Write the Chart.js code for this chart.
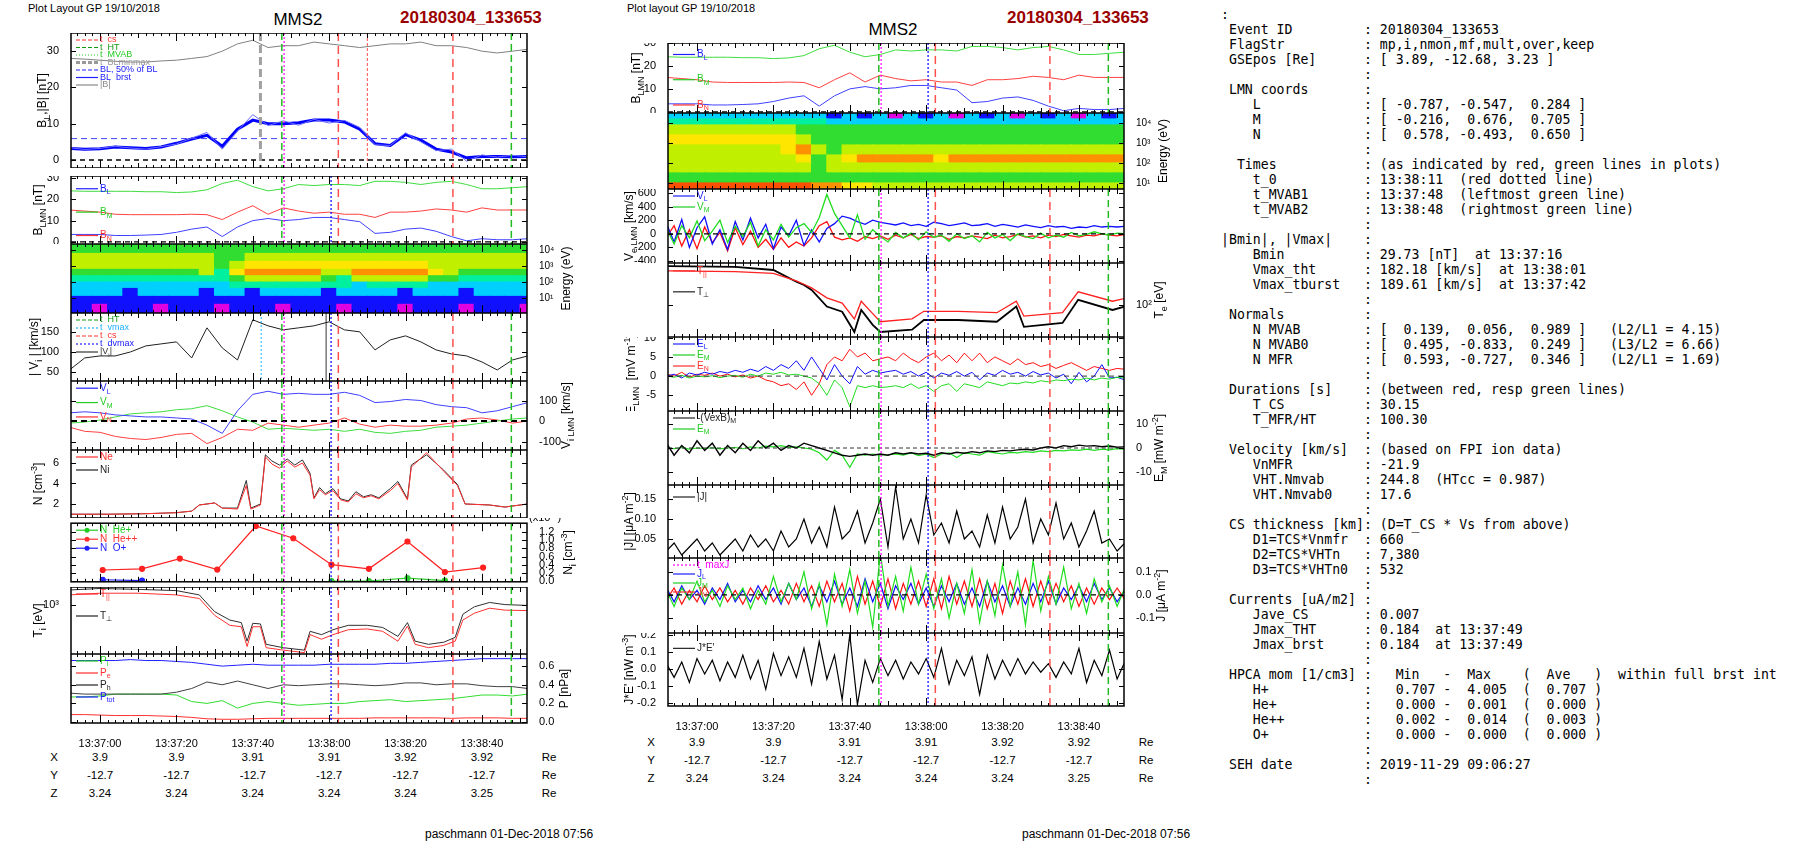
<!DOCTYPE html>
<html>
<head>
<meta charset="utf-8">
<script src="https://cdn.jsdelivr.net/npm/chart.js@4.4.1/dist/chart.umd.min.js"></script>
<style>
  body { margin: 0; width: 1804px; height: 841px; background: #fff; position: relative; overflow: hidden; font-family: "Liberation Sans", Arial, sans-serif; }
  canvas { position: absolute; }
  .t { position: absolute; white-space: nowrap; color: #000; }
  .c { transform: translate(-50%, -50%); }
  .m { transform: translateY(-50%); }
  pre { position: absolute; left: 1221px; top: 7px; margin: 0; font-family: "DejaVu Sans Mono", monospace; font-size: 13.2px; line-height: 15px; color: #000; }
</style>
</head>
<body>
<div class="t" style="left:28px;top:2px;font-size:11px">Plot Layout GP 19/10/2018</div>
<div class="t c" style="left:298px;top:20px;font-size:17px">MMS2</div>
<div class="t m" style="left:400px;top:18px;font-size:17px;font-weight:bold;color:#9b0000">20180304_133653</div>
<div class="t" style="left:627px;top:2px;font-size:11px">Plot layout GP 19/10/2018</div>
<div class="t c" style="left:893px;top:30px;font-size:17px">MMS2</div>
<div class="t m" style="left:1007px;top:18px;font-size:17px;font-weight:bold;color:#9b0000">20180304_133653</div>
<div class="t m" style="left:425px;top:834px;font-size:12px">paschmann 01-Dec-2018 07:56</div>
<div class="t m" style="left:1022px;top:834px;font-size:12px">paschmann 01-Dec-2018 07:56</div>
<pre id="info"></pre>
<script>
const F = "'Liberation Sans', Arial, sans-serif";

// ---- time grids (seconds after 13:36:00) ----
const T4 = Array.from({length: 31}, (_, i) => 52 + 4 * i);
const T2 = Array.from({length: 61}, (_, i) => 52 + 2 * i);
const XMIN = 52.4, XMAX = 171.8;

// event times
const tCs = [122.4, 152.4];
const tMvab = [107.6, 167.7];
const tMaxJ = 108.2;
const tDvmax = 120.5;
const tVmax = 102.2;
const tBminmax = 102;
const t0 = 130;
const tThin = 119.2;

// ---- left column data ----
const Bmag = [28,27.8,27.5,27.2,27,27,27.3,27.5,28,28.5,30,32,33,31,31.5,31.5,32.5,32,31.5,31,31.5,32,32,32.5,31.5,31.5,31,30,29.5,30,30.5];
const BLsm = [3.2,3.0,3.1,3.6,3.4,3.2,3.6,4.6,5.8,6.8,3.8,8.5,11,10,10,10.3,11,11,10.5,8.5,4.5,4.0,7.0,5.5,3.0,2.2,0.6,1.0,1.0,0.9,1.0];
const BLbrst = [3.4,2.9,3.2,3.8,3.3,3.0,3.7,4.4,6.0,7.6,3.0,8.0,12.5,9.5,10.8,9.6,11.2,10.2,10.9,9.0,4.2,4.0,7.5,5.0,2.6,3.0,-0.3,1.4,0.8,1.3,0.9];
const BLmn_g = [24,23.8,23.8,23.8,23.8,23.6,23.6,23.2,23.5,24.5,27.5,29,26,24,25,27,26.5,27,27,26.5,28.5,28.5,28,27,28,28.5,27,25,25,25.5,26];
const BLmn_r = [15,14.5,14,13,12.8,12.8,12.8,12.8,13,12.8,10.5,14,17,13,16,14.5,13.5,14,13,13,11.5,14,14,14.5,15.5,15,14,16,15,15,15];
const BLmn_b = [3.5,3.5,3.5,3,3,3.2,3.5,4.5,6,7,2.5,7,10,11,10,10.5,11.5,11.5,10.5,9.5,4,4.5,6,6.5,5,2.5,0.5,1.5,1,1,1.5];

const ionBands = [0.06,0.6,1.1,1.6,2.0,2.4,2.8,3.3,3.8,4.4];
const ionLevels = [
  "1101110111"+"0111011101"+"11011101110",
  "1111111111"+"1111111111"+"11111111111",
  "2222122221"+"2212222122"+"22122212222",
  "2222222222"+"2333333332"+"33332222222",
  "3333333333"+"3455555435"+"55554433333",
  "4444444445"+"3677777557"+"77776544444",
  "5555555555"+"4566666666"+"66665555555",
  "5555555555"+"4455555555"+"55555555555",
  "4444444444"+"4444444444"+"44444444444"
];

const Vimag = [55,85,90,90,100,115,120,125,85,160,110,80,180,165,155,160,165,175,155,150,105,130,140,125,105,95,90,75,55,80,90];
const ViL = [40,45,40,30,25,20,20,15,10,-20,-60,50,130,145,130,135,130,130,140,125,90,95,105,100,80,70,65,40,50,70,90];
const ViM = [-10,-5,5,20,35,40,45,55,60,75,50,20,-5,-40,-35,-40,-45,-40,-50,-40,-55,-60,-50,-45,-30,-25,-20,-10,0,10,15];
const ViN = [-30,-50,-55,-75,-85,-90,-80,-65,-60,-110,-80,-40,-45,-10,-20,-30,-20,-10,15,-15,-30,-20,-25,-25,-20,-10,10,15,5,-10,0];

const tN = [52,62,72,80,84,86,90,92,96,98.3,99.5,102,103.3,105,107,109,111,113,115,116,117.5,119,121,123,125,127,129,131,133,136,138,140.5,141.5,145.5,150,153.6,155.6,162,166,172];
const Ni = [1.0,1.0,1.05,1.15,1.3,1.9,2.1,1.6,1.6,4.3,1.6,2.0,6.8,6.2,5.8,6.4,5.8,6.3,5.0,2.6,3.6,3.0,3.5,2.5,2.3,3.2,2.7,2.9,2.6,3.5,4.2,2.5,5.8,6.8,5.3,3.9,2.0,1.9,1.7,2.0];
const Ne = [1.0,1.0,1.05,1.15,1.3,1.9,2.1,1.6,1.5,3.8,1.5,1.9,6.6,5.9,5.5,6.2,5.6,6.0,4.8,2.5,3.4,2.9,3.3,2.4,2.2,3.0,2.6,2.8,2.5,3.3,4.0,2.4,5.6,7.0,5.2,3.8,2.0,1.9,1.7,2.0];

const tHe = [60.7,71,80.9,90.7,100.8,110.6,120.6,130.4,140.5,150.3,160.3];
const HePP = [0.27,0.3,0.55,0.28,1.35,1.05,0.4,0.3,0.97,0.22,0.33];
const tHeP = [120.6,130.4,140.5,150.3];
const HeP = [0,0.0,0.07,0.01];
const tOp = [60.7,71];
const Op = [0.03,0.01];

const tTi = [52,60,70,80,86,90,94,97,98.5,100,102,103.5,108,113.5,115,118,121,125,130,134,138,140.5,142.5,146,150,153,155,158,162,166,172];
const Tperp = [1400,1450,1420,1380,1250,850,700,660,430,650,640,400,370,350,540,500,560,620,620,590,480,660,430,400,420,470,800,950,1050,1000,980];
const Tpar = [1250,1300,1300,1250,1150,780,620,600,380,600,600,370,350,330,500,450,500,560,570,540,430,610,400,370,390,430,700,820,920,880,870];

const Ptot = [0.66,0.66,0.66,0.66,0.67,0.66,0.66,0.65,0.64,0.62,0.6,0.61,0.62,0.61,0.61,0.61,0.61,0.62,0.62,0.62,0.62,0.63,0.63,0.64,0.65,0.66,0.67,0.68,0.68,0.68,0.68];
const Ph = [0.31,0.3,0.3,0.3,0.3,0.3,0.3,0.32,0.36,0.43,0.4,0.44,0.4,0.36,0.4,0.39,0.4,0.41,0.41,0.4,0.39,0.4,0.42,0.42,0.4,0.41,0.41,0.39,0.38,0.38,0.36];
const Pi = [0.27,0.27,0.28,0.3,0.3,0.3,0.3,0.29,0.22,0.2,0.23,0.15,0.2,0.22,0.2,0.18,0.19,0.2,0.2,0.22,0.23,0.24,0.22,0.23,0.24,0.25,0.27,0.29,0.29,0.28,0.3];
const Pe = [0.08,0.08,0.075,0.07,0.07,0.07,0.065,0.06,0.05,0.035,0.03,0.03,0.035,0.04,0.04,0.04,0.04,0.04,0.04,0.04,0.045,0.045,0.045,0.045,0.045,0.04,0.045,0.045,0.045,0.04,0.04];

// ---- right column data ----
const eBands = [0.7,1.0,1.5,2.0,2.4,2.9,3.4,3.9,4.2,4.5];
const eLevels = [
  "8888888888"+"7766555555"+"55555555555",
  "4444444444"+"4444444444"+"44444444444",
  "5555555555"+"4555555555"+"55555555555",
  "5555555556"+"4567777767"+"77777777777",
  "5555555567"+"5455555555"+"55555555555",
  "6666666665"+"4444444444"+"44444444444",
  "5555555554"+"4444444444"+"44444444444",
  "3333333333"+"3222222222"+"22222222222",
  "2222222222"+"2121202120"+"21202120212"
];

const VeL = [150,-120,210,-200,90,250,-150,60,-230,180,-90,230,-60,140,-220,100,-30,200,-170,60,
  -120,80,150,260,230,180,140,200,170,150,130,160,120,140,110,170,150,120,140,160,
  120,130,150,110,140,120,100,130,110,90,120,100,110,80,100,90,120,100,110,100,110];
const VeM = [80,-150,120,-60,190,-100,40,200,-130,110,-40,170,-180,60,-90,140,-50,90,150,20,
  240,580,300,120,-60,280,-80,60,-40,-120,20,-60,10,-90,30,-50,-20,-110,0,-70,
  -30,-120,20,-60,-10,-100,0,-40,-70,10,-60,-20,-50,20,-30,-10,30,0,-20,10,0];
const VeN = [-50,120,-180,60,-220,100,-130,20,-250,90,-160,40,-200,-80,-230,-60,-200,-120,-180,-60,
  120,180,-50,-90,-60,-110,-40,-70,-30,-80,-20,-60,-10,-70,-40,-50,-30,-80,-40,-60,
  -30,-50,-70,-20,-60,-40,-10,-50,-30,-60,-20,-40,-10,-30,-50,-20,-30,0,-20,-30,-10];

const tTe = [52,70,80,86,88,90,94,98,101.2,103,106,108,116.3,119.4,128.4,138.5,143.6,145.6,155.7,159.8,168.8,172];
const TeK = [270,265,245,181,167,147,96,84,50,88,60,50,53,68,68,65,96,57,63,114,88,96];
const TeR = [240,235,225,185,170,155,120,105,70,110,80,65,70,85,85,82,110,75,82,140,110,118];

const EL = [0,0.5,-0.5,0.8,0.3,1.0,0.5,1.2,0.8,1.5,1.0,1.8,1.2,2.5,1.5,3,2,4,1.5,5,
  2,-1,3,0,-2,2.5,0.5,1.5,0.8,1.2,1.5,0.5,1.2,0,1,-0.5,0.8,0.2,1.2,0,
  1,-1,0.8,0.2,1.5,0.5,1,0,1.2,0.3,0.8,-0.5,0.5,-2,1,-1.5,0,3,-0.5,-0.3,-1];
const EM = [0,-0.3,0.2,-0.5,0,-0.2,0.1,-0.4,0,0.2,-0.3,0.5,0,0.8,0.5,1,0.3,0.5,0,-0.5,
  -2,-5,-1,-3,-8,-2.5,-3,-2.5,-3,-2.8,-2.5,-3,-2,-3.2,-2.5,-4,-2.5,-2,-4,-2,
  -2.5,-3,-1.5,-2,-2.5,-1.8,-2,-1.5,-1.8,-1.2,-1.5,-1,-1.2,-0.8,-1,-0.5,-1,-0.5,-0.8,-0.3,-0.5];
const EN = [0.5,0,1,-0.3,0.5,0.2,0.8,0,0.5,-0.2,0.3,-0.5,0,-1,-1.5,-2.5,-2,-3.5,-1.5,-5,
  -2,3,5,4,7,5,6,4,4.5,5,4,6,4.5,3.5,5,6,4,5.5,3.5,6,
  4,6,3.5,5,4,3,4.5,3,3.5,2.5,3,2,2.8,3.5,2.5,1.5,2.5,2,1.5,2,1.8];
const VxB = [2,-3,1,-2,3,-1,2,-3,1,-2,2,-1,3,0,2,-1,1,0,2,1,
  0,-1,-2,-3,-3.5,-3,-2.5,-3,-2.5,-3,-2,-2.5,-2,-2.5,-2.2,-3,-2,-2.5,-1.8,-2.2,
  -1.5,-2,-1.2,-1.5,-1,-1.2,-0.8,-0.5,-0.8,0,0.5,0,1,0.5,1.2,0.8,1,0.5,0.8,0.3,0.5];
const Jmag = [0.02,0.04,0.01,0.03,0.05,0.02,0.04,0.01,0.03,0.05,0.02,0.06,0.03,0.05,0.02,0.07,0.03,0.05,0.1,0.04,
  0.08,0.03,0.13,0.05,0.07,0.12,0.04,0.09,0.15,0.03,0.18,0.05,0.1,0.04,0.16,0.06,0.09,0.04,0.12,0.05,
  0.07,0.03,0.11,0.04,0.13,0.05,0.08,0.15,0.04,0.1,0.06,0.14,0.05,0.09,0.03,0.07,0.12,0.04,0.05,0.02,0.04];
const JL = [0.03,-0.03,0.04,-0.02,0.02,-0.04,0.03,-0.02,0.05,-0.03,0.02,-0.03,0.04,-0.02,0.03,-0.04,0.05,-0.02,0.03,-0.05,
  0.04,-0.03,0.06,-0.04,0.03,-0.05,0.07,-0.03,0.05,-0.06,0.04,-0.02,0.05,-0.04,0.03,-0.05,0.04,-0.03,0.05,-0.04,
  0.03,-0.05,0.06,-0.03,0.04,-0.05,0.03,-0.04,0.05,-0.03,0.06,-0.04,0.03,-0.02,0.04,-0.03,0.05,-0.02,0.03,-0.03,0.02];
const JM = [0.02,-0.05,0.03,-0.02,0.06,-0.03,0.02,-0.05,0.04,-0.02,0.03,-0.06,0.02,-0.04,0.08,-0.03,0.05,-0.02,0.1,-0.06,
  0.05,-0.13,0.09,-0.05,0.11,-0.08,0.06,-0.14,0.18,-0.05,0.08,-0.07,0.12,-0.04,0.09,-0.06,0.07,-0.1,0.05,-0.08,
  0.11,-0.12,0.06,-0.09,0.13,-0.05,0.1,-0.13,0.15,-0.07,0.08,-0.04,0.12,-0.06,0.05,-0.08,0.07,-0.03,0.04,-0.05,0.03];
const JN = [-0.02,0.03,-0.04,0.02,-0.03,0.04,-0.02,0.03,-0.03,0.02,-0.04,0.03,-0.02,0.04,-0.03,0.02,-0.04,0.05,-0.03,0.04,
  -0.05,0.06,-0.03,0.05,-0.07,0.08,-0.04,0.06,-0.05,0.07,-0.06,0.05,-0.04,0.06,-0.05,0.07,-0.06,0.08,-0.04,0.06,
  -0.05,0.07,-0.06,0.05,-0.08,0.06,-0.04,0.07,-0.05,0.06,-0.04,0.05,-0.03,0.04,-0.05,0.03,-0.04,0.03,-0.02,0.03,-0.02];
const JE = [0.03,-0.05,0.04,-0.08,0.06,-0.03,0.05,-0.07,0.04,-0.05,0.08,-0.06,0.05,-0.12,0.09,-0.04,0.07,-0.05,0.12,-0.09,
  0.16,-0.06,0.08,-0.18,0.2,-0.21,0.05,-0.08,0.06,-0.04,0.05,-0.06,0.04,-0.03,0.06,-0.05,0.12,-0.09,0.05,-0.04,
  0.07,-0.15,0.08,-0.06,0.05,-0.04,0.06,-0.03,0.04,-0.02,0.03,-0.05,0.04,-0.03,0.12,-0.08,0.05,-0.04,0.11,-0.06,0.04];

// ephemeris
const ephTimes = [60,80,100,120,140,160];
const ephX = ['3.9','3.9','3.91','3.91','3.92','3.92'];
const ephY = ['-12.7','-12.7','-12.7','-12.7','-12.7','-12.7'];
const ephZ = ['3.24','3.24','3.24','3.24','3.24','3.25'];

const infoLines = [
":",
" Event ID         : 20180304_133653",
" FlagStr          : mp,i,nmon,mf,mult,over,keep",
" GSEpos [Re]      : [ 3.89, -12.68, 3.23 ]",
"                  :",
" LMN coords       :",
"    L             : [ -0.787, -0.547,  0.284 ]",
"    M             : [ -0.216,  0.676,  0.705 ]",
"    N             : [  0.578, -0.493,  0.650 ]",
"                  :",
"  Times           : (as indicated by red, green lines in plots)",
"    t_0           : 13:38:11  (red dotted line)",
"    t_MVAB1       : 13:37:48  (leftmost green line)",
"    t_MVAB2       : 13:38:48  (rightmost green line)",
"                  :",
"|Bmin|, |Vmax|    :",
"    Bmin          : 29.73 [nT]  at 13:37:16",
"    Vmax_tht      : 182.18 [km/s]  at 13:38:01",
"    Vmax_tburst   : 189.61 [km/s]  at 13:37:42",
"                  :",
" Normals          :",
"    N MVAB        : [  0.139,  0.056,  0.989 ]   (L2/L1 = 4.15)",
"    N MVAB0       : [  0.495, -0.833,  0.249 ]   (L3/L2 = 6.66)",
"    N MFR         : [  0.593, -0.727,  0.346 ]   (L2/L1 = 1.69)",
"                  :",
" Durations [s]    : (between red, resp green lines)",
"    T_CS          : 30.15",
"    T_MFR/HT      : 100.30",
"                  :",
" Velocity [km/s]  : (based on FPI ion data)",
"    VnMFR         : -21.9",
"    VHT.Nmvab     : 244.8  (HTcc = 0.987)",
"    VHT.Nmvab0    : 17.6",
"                  :",
" CS thickness [km]: (D=T_CS * Vs from above)",
"    D1=TCS*Vnmfr  : 660",
"    D2=TCS*VHTn   : 7,380",
"    D3=TCS*VHTn0  : 532",
"                  :",
" Currents [uA/m2] :",
"    Jave_CS       : 0.007",
"    Jmax_THT      : 0.184  at 13:37:49",
"    Jmax_brst     : 0.184  at 13:37:49",
"                  :",
" HPCA mom [1/cm3] :   Min   -  Max    (  Ave   )  within full brst int",
"    H+            :   0.707 -  4.005  (  0.707 )",
"    He+           :   0.000 -  0.001  (  0.000 )",
"    He++          :   0.002 -  0.014  (  0.003 )",
"    O+            :   0.000 -  0.000  (  0.000 )",
"                  :",
" SEH date         : 2019-11-29 09:06:27",
"                  :"
];
document.getElementById('info').textContent = infoLines.join('\n');

// ---- helpers ----
const palette = ['#e000e0','#1010ff','#00d0ff','#00f0a0','#30dd30','#c0f000','#ffe600','#ff9000','#ff5000'];
const xy = (ts, vs) => ts.map((t, i) => ({x: t, y: vs[i]}));
const sup = {'0':'⁰','1':'¹','2':'²','3':'³','4':'⁴'};

function rich(ctx, s, x, y, size, color, align) {
  const parts = s.split(/(_\{[^}]*\}|\^\{[^}]*\})/).filter(Boolean).map(p =>
    p.startsWith('_{') ? {t: p.slice(2, -1), k: 1} : p.startsWith('^{') ? {t: p.slice(2, -1), k: 2} : {t: p, k: 0});
  const fnt = k => (k ? Math.round(size * 0.72) : size) + 'px ' + F;
  let w = 0;
  parts.forEach(p => { ctx.font = fnt(p.k); p.w = ctx.measureText(p.t).width; w += p.w; });
  let cx = align === 'center' ? x - w / 2 : x;
  ctx.fillStyle = color; ctx.textAlign = 'left'; ctx.textBaseline = 'middle';
  parts.forEach(p => {
    ctx.font = fnt(p.k);
    ctx.fillText(p.t, cx, y + (p.k === 1 ? size * 0.35 : p.k === 2 ? -size * 0.38 : 0));
    cx += p.w;
  });
}

const deco = {
  id: 'deco',
  afterDatasetsDraw(chart, args, o) {
    const {ctx, chartArea: ca} = chart;
    const xs = chart.scales.x, ys = chart.scales.y;
    ctx.save();
    ctx.beginPath(); ctx.rect(ca.left, ca.top, ca.width, ca.height); ctx.clip();
    (o.hl || []).forEach(h => {
      const py = ys.getPixelForValue(h.y);
      ctx.beginPath(); ctx.setLineDash(h.d || [5, 4]); ctx.strokeStyle = h.c; ctx.lineWidth = h.w || 1.2;
      ctx.moveTo(ca.left, py); ctx.lineTo(ca.right, py); ctx.stroke();
    });
    (o.vl || []).forEach(v => {
      const px = xs.getPixelForValue(v.x);
      ctx.beginPath(); ctx.setLineDash(v.d || []); ctx.strokeStyle = v.c; ctx.lineWidth = v.w || 1;
      ctx.moveTo(px, ca.top); ctx.lineTo(px, ca.bottom); ctx.stroke();
    });
    ctx.restore();

    ctx.save();
    ctx.strokeStyle = '#000'; ctx.setLineDash([]);
    ctx.lineWidth = 1.5;
    ctx.strokeRect(ca.left, ca.top, ca.width, ca.height);
    ctx.lineWidth = 1;
    ctx.beginPath();
    for (let s = 54; s <= XMAX; s += 2) {
      const px = Math.round(xs.getPixelForValue(s)) + 0.5;
      const len = s % 20 === 0 ? 8 : (s % 10 === 0 ? 5 : 3);
      ctx.moveTo(px, ca.top); ctx.lineTo(px, ca.top + len);
      ctx.moveTo(px, ca.bottom); ctx.lineTo(px, ca.bottom - len);
    }
    const ta = chart.scales[o.tickAxis || 'y'];
    ta.ticks.forEach(t => {
      const py = Math.round(ta.getPixelForValue(t.value)) + 0.5;
      if (py < ca.top - 1 || py > ca.bottom + 1) return;
      ctx.moveTo(ca.left, py); ctx.lineTo(ca.left + 5, py);
      ctx.moveTo(ca.right, py); ctx.lineTo(ca.right - 5, py);
    });
    ctx.stroke();

    // inline legend
    const lg = o.legend || [];
    const sp = o.legendGap || 11, fs = o.legendSize || 10;
    lg.forEach((e, i) => {
      const y = e.y !== undefined ? ys.getPixelForValue(e.y) : ca.top + 7 + i * sp;
      const x0 = ca.left + 5;
      ctx.beginPath(); ctx.setLineDash(e.d || []); ctx.strokeStyle = e.lc || e.c; ctx.lineWidth = e.w || 1.2;
      ctx.moveTo(x0, y); ctx.lineTo(x0 + 22, y); ctx.stroke();
      if (e.dot) { ctx.setLineDash([]); ctx.fillStyle = e.c; ctx.beginPath(); ctx.arc(x0 + 11, y, 2.5, 0, 7); ctx.fill(); }
      rich(ctx, e.t, x0 + 24, y, fs, e.c, 'left');
    });

    // axis titles
    const cy = (ca.top + ca.bottom) / 2;
    [['lt', ca.left - (o.lOff || 32)], ['rt', ca.right + (o.rOff || 34)]].forEach(([k, x]) => {
      if (!o[k]) return;
      ctx.save(); ctx.translate(x, cy); ctx.rotate(-Math.PI / 2);
      rich(ctx, o[k], 0, 0, 12, '#000', 'center');
      ctx.restore();
    });
    if (o.note) rich(ctx, o.note.t, ca.right + o.note.dx, ca.top + o.note.dy, 11, '#000', 'left');
    ctx.restore();
  }
};
Chart.register(deco);

const fmtTime = v => { const m = 36 + Math.floor(v / 60), s = v % 60; return '13:' + m + ':' + (s < 10 ? '0' : '') + s; };

function panel(o) {
  const c = document.createElement('canvas');
  const h = o.H + (o.xlab ? 24 : 0);
  c.width = o.W + 120; c.height = h;
  c.style.left = (o.L - 60) + 'px'; c.style.top = o.T + 'px';
  document.body.appendChild(c);
  const yax = side => ({
    type: o.y.type || 'linear', position: side, min: o.y.min, max: o.y.max, display: true,
    grid: {display: false}, border: {display: false},
    ticks: {display: o.y.side === side, autoSkip: false, padding: 4, color: '#000', font: {size: o.y.fs || 11, family: F},
      callback: o.y.fmt || (v => v)},
    afterBuildTicks(s) { s.ticks = o.y.ticks.map(v => ({value: v})); },
    afterFit(s) { s.width = 60; s.paddingTop = 0; s.paddingBottom = 0; }
  });
  new Chart(c, {
    type: o.type || 'line',
    data: {datasets: o.ds},
    options: {
      responsive: false, animation: false, events: [],
      layout: {padding: 0},
      datasets: {
        line: {pointRadius: 0, borderWidth: 1, tension: 0},
        bar: {grouped: false, barPercentage: 1, categoryPercentage: 1, borderWidth: 0, inflateAmount: 0.6}
      },
      plugins: {legend: {display: false}, tooltip: {enabled: false}, deco: o.deco},
      scales: {
        x: {type: 'linear', min: XMIN, max: XMAX, offset: false, display: !!o.xlab,
          grid: {display: false}, border: {display: false},
          ticks: {autoSkip: false, maxRotation: 0, padding: 6, color: '#000', font: {size: 11, family: F}, callback: fmtTime},
          afterBuildTicks(s) { s.ticks = [60, 80, 100, 120, 140, 160].map(v => ({value: v})); },
          afterFit(s) { s.height = o.xlab ? 24 : 0; s.paddingLeft = 0; s.paddingRight = 0; }},
        y: yax('left'),
        y2: yax('right')
      }
    }
  });
}

function line(vs, ts, color, w, extra) { return Object.assign({data: xy(ts, vs), borderColor: color, borderWidth: w || 1}, extra || {}); }

function specSets(bands, levels, ts) {
  return levels.map((row, b) => ({
    data: ts.map(t => ({x: t, y: [bands[b], bands[b + 1]]})),
    backgroundColor: row.split('').map(ch => palette[+ch]),
    borderColor: row.split('').map(ch => palette[+ch])
  }));
}

const RED = '#ff3030', GRN = '#22cc22', BLU = '#2020ff';
const green = tMvab.map(x => ({x, c: '#22bb22', d: [7, 4], w: 1.5}));
const reds = tCs.map(x => ({x, c: '#ff5050', d: [8, 5], w: 1.5}));
const mag = {x: tMaxJ, c: '#ff00ff', d: [2, 2], w: 1.2};
const blueDot = {x: tDvmax, c: '#0000ff', d: [2, 2], w: 1.2};
const stdV = [...green, mag, blueDot, ...reds];
const zeroH = {y: 0, c: '#000', d: [5, 4], w: 1.3};
const logFmt = v => '10' + sup[String(Math.round(v))];

// ---- left column ----
const L1 = 71, W1 = 456;
panel({L: L1, T: 33, W: W1, H: 135, y: {min: -2.2, max: 35, ticks: [0, 10, 20, 30], side: 'left'},
  ds: [line(Bmag, T4, '#808080', 1), line(BLbrst, T4, '#6a6aff', 1), line(BLsm, T4, '#0000ff', 3)],
  deco: {lt: 'B_{L},|B| [nT]', lOff: 28, hl: [zeroH, {y: 5.9, c: '#4040ff', d: [6, 4], w: 1}],
    vl: [{x: tBminmax, c: '#a0a0a0', d: [8, 4], w: 3}, ...green, mag, ...reds, {x: t0, c: '#ff5050', d: [3, 2], w: 1}],
    legendGap: 7.5, legendSize: 9,
    legend: [{t: 't  cs', c: RED, d: [4, 2]}, {t: 't  HT', c: '#119911', d: [4, 2]}, {t: 't  MVAB', c: GRN, d: [1, 2]},
      {t: 't  BLminmax', c: '#999', d: [4, 2], w: 3}, {t: 'BL, 50% of BL', c: BLU, d: [4, 2]}, {t: 'BL  brst', c: BLU}, {t: '|B|', c: '#888'}]}});

const blmnDeco = (lOff) => ({lt: 'B_{LMN} [nT]', lOff, hl: [zeroH], vl: stdV,
  legend: [{t: 'B_{L}', c: BLU, y: 25}, {t: 'B_{M}', c: GRN, y: 14}, {t: 'B_{N}', c: RED, y: 3}]});
panel({L: L1, T: 176, W: W1, H: 68, y: {min: -1, max: 31, ticks: [0, 10, 20, 30], side: 'left'},
  ds: [line(BLmn_g, T4, '#40dd40'), line(BLmn_r, T4, '#ff4040'), line(BLmn_b, T4, '#4040ff')],
  deco: blmnDeco(32)});

panel({L: L1, T: 244, W: W1, H: 69, type: 'bar', y: {min: 0.06, max: 4.4, ticks: [1, 2, 3, 4], side: 'right', fmt: logFmt, fs: 10},
  ds: specSets(ionBands, ionLevels, T4), deco: {rt: 'Energy (eV)', rOff: 40, tickAxis: 'y2'}});

panel({L: L1, T: 313, W: W1, H: 68, y: {min: 27.5, max: 197, ticks: [50, 100, 150], side: 'left'},
  ds: [line(Vimag, T4, '#202020')],
  deco: {lt: '| V_{i} | [km/s]', lOff: 36, vl: [{x: tVmax, c: '#20b0ff', d: [2, 2]}, {x: tThin, c: '#000', w: 0.8}, ...stdV],
    legendGap: 8, legendSize: 9,
    legend: [{t: 't  HT', c: '#119911', d: [4, 2]}, {t: 't  vmax', c: '#20b0ff', d: [2, 2]}, {t: 't  cs', c: RED, d: [4, 2]},
      {t: 't  dvmax', c: BLU, d: [2, 2]}, {t: '|V_{i}|', c: '#333'}]}});

panel({L: L1, T: 381, W: W1, H: 69, y: {min: -141, max: 195, ticks: [-100, 0, 100], side: 'right'},
  ds: [line(ViL, T4, '#4040ff'), line(ViM, T4, '#40dd40'), line(ViN, T4, '#ff4040')],
  deco: {rt: 'V_{i LMN} [km/s]', rOff: 40, tickAxis: 'y2', hl: [{y: 0, c: '#000', d: [6, 4], w: 2}], vl: stdV,
    legend: [{t: 'V_{L}', c: BLU, y: 160}, {t: 'V_{M}', c: GRN, y: 90}, {t: 'V_{N}', c: RED, y: 20}]}});

panel({L: L1, T: 450, W: W1, H: 68, y: {min: 0.63, max: 7.27, ticks: [2, 4, 6], side: 'left'},
  ds: [line(Ne, tN, '#ff3030'), line(Ni, tN, '#303030')],
  deco: {lt: 'N [cm^{-3}]', vl: stdV, legendGap: 13, legend: [{t: 'Ne', c: RED}, {t: 'Ni', c: '#222'}]}});

panel({L: L1, T: 518, W: W1, H: 69, y: {min: -0.02, max: 1.42, ticks: [0, 0.2, 0.4, 0.6, 0.8, 1.0, 1.2], side: 'right', fmt: v => v.toFixed(1)},
  ds: [line(HePP, tHe, '#ff2020', 1.2, {pointRadius: 2.5, pointBackgroundColor: '#ff2020'}),
    line(HeP, tHeP, '#30cc30', 1.2, {pointRadius: 2.5, pointBackgroundColor: '#30cc30'}),
    line(Op, tOp, '#2020ff', 1.2, {pointRadius: 2.5, pointBackgroundColor: '#2020ff'})],
  deco: {rt: 'N_{i} [cm^{-3}]', rOff: 42, tickAxis: 'y2', vl: stdV, note: {t: '(x10^{-2})', dx: 2, dy: -5},
    legendGap: 9, legendSize: 10,
    legend: [{t: 'N  He+', c: GRN, dot: true}, {t: 'N  He++', c: RED, dot: true}, {t: 'N  O+', c: BLU, dot: true}]}});

panel({L: L1, T: 587, W: W1, H: 67, y: {type: 'logarithmic', min: 320, max: 1500, ticks: [1000], side: 'left', fmt: v => '10³'},
  ds: [line(Tpar, tTi, '#ff3030'), line(Tperp, tTi, '#303030')],
  deco: {lt: 'T_{i} [eV]', vl: stdV, legendGap: 22, legend: [{t: 'T_{||}', c: RED}, {t: 'T_{⊥}', c: '#222'}]}});

panel({L: L1, T: 654, W: W1, H: 69, xlab: true, y: {min: -0.01, max: 0.73, ticks: [0, 0.2, 0.4, 0.6], side: 'right', fmt: v => v.toFixed(1)},
  ds: [line(Ptot, T4, '#2020ff'), line(Ph, T4, '#404040'), line(Pi, T4, '#30dd30'), line(Pe, T4, '#ff3030')],
  deco: {rt: 'P [nPa]', rOff: 38, tickAxis: 'y2', vl: stdV, legendGap: 12,
    legend: [{t: 'P_{i}', c: GRN}, {t: 'P_{e}', c: RED}, {t: 'P_{h}', c: '#222'}, {t: 'P_{tot}', c: BLU}]}});

// ---- right column ----
const L2 = 668, W2 = 456;
panel({L: L2, T: 43, W: W2, H: 70, y: {min: -0.5, max: 30, ticks: [0, 10, 20, 30], side: 'left'},
  ds: [line(BLmn_g, T4, '#40dd40'), line(BLmn_r, T4, '#ff4040'), line(BLmn_b, T4, '#4040ff')],
  deco: blmnDeco(31)});

panel({L: L2, T: 113, W: W2, H: 76, type: 'bar', y: {min: 0.7, max: 4.5, ticks: [1, 2, 3, 4], side: 'right', fmt: logFmt, fs: 10},
  ds: specSets(eBands, eLevels, T4), deco: {rt: 'Energy (eV)', rOff: 40, tickAxis: 'y2'}});

panel({L: L2, T: 189, W: W2, H: 74, y: {min: -430, max: 660, ticks: [-400, -200, 0, 200, 400, 600], side: 'left'},
  ds: [line(VeM, T2, '#20dd20', 1.3), line(VeL, T2, '#1010ff', 1.3), line(VeN, T2, '#ff1010', 1.3)],
  deco: {lt: 'V_{e LMN} [km/s]', lOff: 38, hl: [zeroH], vl: stdV,
    legend: [{t: 'V_{L}', c: BLU}, {t: 'V_{M}', c: GRN}]}});

panel({L: L2, T: 263, W: W2, H: 74, y: {type: 'logarithmic', min: 44, max: 293, ticks: [100], side: 'right', fmt: v => '10²'},
  ds: [line(TeR, tTe, '#ff2020', 1.3), line(TeK, tTe, '#000', 1.8)],
  deco: {rt: 'T_{e} [eV]', rOff: 36, tickAxis: 'y2', vl: stdV, legendGap: 16,
    legend: [{t: 'T_{||}', c: RED, y: 240}, {t: 'T_{⊥}', c: '#222', y: 140}]}});

panel({L: L2, T: 337, W: W2, H: 74, y: {min: -9.1, max: 10.2, ticks: [-5, 0, 5, 10], side: 'left'},
  ds: [line(EM, T2, '#20dd20'), line(EL, T2, '#1010ff'), line(EN, T2, '#ff1010')],
  deco: {lt: 'E_{LMN}  [mV m^{-1}]', lOff: 36, hl: [{y: 0, c: '#333', d: [5, 4], w: 1}], vl: stdV,
    legend: [{t: 'E_{L}', c: BLU}, {t: 'E_{M}', c: GRN}, {t: 'E_{N}', c: RED}]}});

panel({L: L2, T: 411, W: W2, H: 74, y: {min: -15.4, max: 15.4, ticks: [-10, 0, 10], side: 'right'},
  ds: [line(VxB, T2, '#000', 1.4), line(EM, T2, '#20dd20', 1.2)],
  deco: {rt: 'E_{M} [mW m^{-2}]', rOff: 36, tickAxis: 'y2', hl: [{y: 0, c: '#333', d: [4, 3], w: 1}], vl: stdV,
    legend: [{t: '-(VexB)_{M}', c: '#222'}, {t: 'E_{M}', c: GRN}]}});

panel({L: L2, T: 485, W: W2, H: 73, y: {min: 0.0025, max: 0.185, ticks: [0.05, 0.10, 0.15], side: 'left', fmt: v => v.toFixed(2)},
  ds: [line(Jmag, T2, '#000', 1.2)],
  deco: {lt: '|J| [μA m^{-2}]', lOff: 38, vl: stdV, legend: [{t: '|J|', c: '#222', y: 0.155}]}});

panel({L: L2, T: 558, W: W2, H: 75, y: {min: -0.165, max: 0.16, ticks: [-0.1, 0, 0.1], side: 'right', fmt: v => v.toFixed(1)},
  ds: [line(JM, T2, '#20dd20', 1.2), line(JL, T2, '#1010ff', 1.2), line(JN, T2, '#ff1010', 1.2)],
  deco: {rt: 'J [μA m^{-2}]', rOff: 38, tickAxis: 'y2', hl: [{y: 0, c: '#000', d: [5, 4], w: 1.2}], vl: stdV, legendGap: 9,
    legend: [{t: 't  maxJ', c: '#ff00ff', d: [2, 2]}, {t: 'J_{L}', c: BLU}, {t: 'J_{M}', c: GRN}, {t: 'J_{N}', c: RED}]}});

panel({L: L2, T: 633, W: W2, H: 73, xlab: true, y: {min: -0.218, max: 0.21, ticks: [-0.2, -0.1, 0, 0.1, 0.2], side: 'left', fmt: v => v.toFixed(1)},
  ds: [line(JE, T2, '#000', 1.2)],
  deco: {lt: "J*E' [nW m^{-3}]", lOff: 38, vl: stdV, legend: [{t: "J*E'", c: '#222', y: 0.12}]}});

// ---- ephemeris rows ----
function eph(L, W, top) {
  const px = t => L + (t - XMIN) / (XMAX - XMIN) * W;
  [['X', ephX], ['Y', ephY], ['Z', ephZ]].forEach(([lab, vals], r) => {
    const y = top + r * 18;
    const add = (txt, x, cls) => { const d = document.createElement('div'); d.className = 't ' + cls; d.style.left = x + 'px'; d.style.top = y + 'px'; d.style.fontSize = '11.5px'; d.textContent = txt; document.body.appendChild(d); };
    add(lab, L - 17, 'c');
    vals.forEach((v, i) => add(v, px(ephTimes[i]), 'c'));
    add('Re', L + W + 22, 'c');
  });
}
eph(L1, W1, 757);
eph(L2, W2, 742);
</script>
</body>
</html>
